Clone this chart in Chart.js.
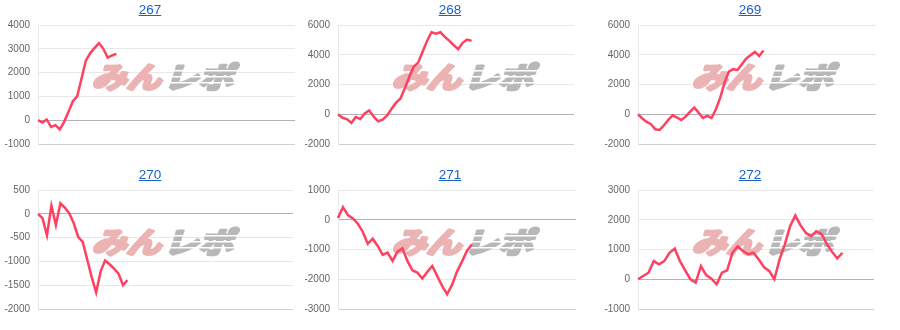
<!DOCTYPE html>
<html>
<head>
<meta charset="utf-8">
<title>267-272</title>
<script src="https://cdn.jsdelivr.net/npm/chart.js@4/dist/chart.umd.min.js"></script>
<style>
  body { margin: 0; background: #fff; }
  #grid { display: grid; grid-template-columns: repeat(3, 300px); grid-template-rows: repeat(2, 165px); width: 900px; height: 330px; }
  .cell { position: relative; width: 300px; height: 165px; }
  .cell canvas { position: absolute; left: 0; top: 0; }
  .cell .title { position: absolute; top: 2px; left: 0; width: 300px; text-align: center; font: 13.5px/16px "Liberation Sans", Arial, sans-serif; z-index: 2; }
  .cell .title a { color: #1a62c9; text-decoration: underline; }
</style>
</head>
<body>
<div id="grid"></div>
<script>
const chartTitles = ["267", "268", "269", "270", "271", "272"];

const values267 = [0, -100, 30, -280, -210, -390, -70, 350, 800, 1000, 1750, 2510, 2820, 3040, 3240, 3000, 2630, 2720, 2790];
const values268 = [0, -240, -330, -580, -190, -320, 50, 260, -150, -470, -360, -90, 350, 760, 1040, 1750, 2500, 3200, 3470, 4200, 4930, 5510, 5420, 5510, 5200, 4930, 4640, 4380, 4800, 5020, 4930];
const values269 = [0, -290, -520, -670, -1010, -1050, -740, -380, -70, -220, -380, -160, 160, 450, 110, -250, -110, -250, 340, 1120, 2130, 2870, 3030, 2980, 3360, 3740, 3970, 4190, 3920, 4280];
const values270 = [0, -90, -450, 170, -240, 220, 130, 10, -200, -490, -590, -960, -1330, -1650, -1210, -980, -1060, -1150, -1260, -1500, -1390];
const values271 = [60, 425, 156, 45, -134, -402, -804, -637, -883, -1184, -1106, -1385, -1073, -961, -1385, -1698, -1777, -1978, -1754, -1553, -1888, -2223, -2503, -2190, -1743, -1408, -1050, -827];
const values272 = [0, 110, 220, 610, 500, 610, 890, 1030, 610, 300, 0, -110, 440, 140, 20, -170, 220, 300, 890, 1110, 950, 840, 890, 670, 410, 280, 0, 670, 1170, 1780, 2140, 1810, 1560, 1450, 1610, 1520, 1190, 920, 700, 890];

const yMin = [-1000, -2000, -2000, -2000, -3000, -1000];
const yMax = [4000, 6000, 6000, 500, 1000, 3000];
const yStep = [1000, 2000, 2000, 500, 1000, 1000];
// how many x positions each chart's axis holds
const xSlots = [60, 54, 56, 58, 49, 46];

const allValues = [values267, values268, values269, values270, values271, values272];
const padRight = [5, 26, 24, 7, 24, 26];

const lineColor = "rgb(255, 64, 96)";

function makeLogo(){
    const c = document.createElement("canvas");
    c.width = 160;
    c.height = 34;
    const g = c.getContext("2d");
    g.setTransform(1.2, 0, -0.32, 1, 0, 0);
    g.font = "bold 29px 'Noto Sans CJK JP'";
    g.lineJoin = "round";
    g.lineWidth = 3;
    g.fillStyle = g.strokeStyle = "#ebb3b3";
    g.fillText("みん", 14, 29);
    g.strokeText("みん", 14, 29);
    g.fillStyle = g.strokeStyle = "#b8b8b8";
    g.fillText("レポ", 74, 29);
    g.strokeText("レポ", 74, 29);
    // speed stripes cut out of the grey part
    g.setTransform(1, 0, 0, 1, 0, 0);
    g.globalCompositeOperation = "destination-out";
    [11, 17, 23].forEach(y => g.fillRect(78, y, 82, 1.5));
    return c;
}

const logo = makeLogo();

const logoPlugin = {
    id: "logo",
    beforeDatasetsDraw(chart){
        chart.ctx.drawImage(logo, 84, 59);
    }
};

document.addEventListener("DOMContentLoaded", function(){
    const grid = document.getElementById("grid");

    chartTitles.forEach((name, i) => {
        const cell = document.createElement("div");
        cell.className = "cell";
        const title = document.createElement("div");
        title.className = "title";
        const link = document.createElement("a");
        link.href = "#";
        link.textContent = name;
        title.appendChild(link);
        const canvas = document.createElement("canvas");
        canvas.width = 300;
        canvas.height = 165;
        cell.appendChild(canvas);
        cell.appendChild(title);
        grid.appendChild(cell);

        drawChart(canvas, i);
    });
});

function drawChart(canvas, i){
    const labels = Array.from({length: xSlots[i]}, (_, k) => k + 1);

    new Chart(canvas, {
        type: "line",
        data: {
            labels: labels,
            datasets: [
                {
                    data: allValues[i],
                    borderColor: lineColor,
                    borderWidth: 2.5,
                    pointRadius: 0,
                    tension: 0,
                    fill: false
                }
            ]
        },
        options: {
            responsive: false,
            animation: false,
            devicePixelRatio: 1,
            layout: {
                padding: {top: 25, bottom: 21, left: 0, right: padRight[i]}
            },
            plugins: {
                legend: {display: false},
                tooltip: {enabled: false}
            },
            scales: {
                x: {display: false},
                y: {
                    min: yMin[i],
                    max: yMax[i],
                    afterFit: scale => { scale.width = 38; },
                    ticks: {
                        stepSize: yStep[i],
                        padding: 8,
                        color: "#666",
                        font: {family: "'Liberation Sans', Arial, sans-serif", size: 10},
                        callback: value => String(value)
                    },
                    grid: {
                        drawTicks: false,
                        color: ctx => ctx.tick.value === 0 ? "#b3b3b3" : (ctx.tick.value === yMin[i] ? "#d0d0d0" : "#e8e8e8")
                    },
                    border: {color: "#e8e8e8"}
                }
            }
        },
        plugins: [logoPlugin]
    });
}
</script>
</body>
</html>
